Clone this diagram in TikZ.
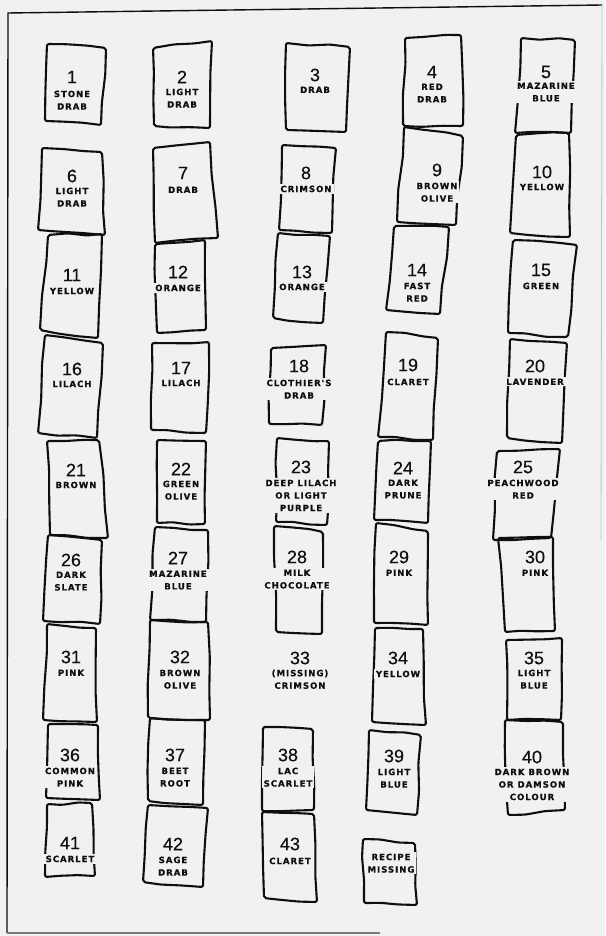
\documentclass[tikz,border=0pt]{standalone}
\usepackage{fontspec}
\usetikzlibrary{calc}
\newfontfamily\numfamily[FakeBold=0.3]{Liberation Sans}
\newfontfamily\labfamily[LetterSpace=11, BoldFeatures={FakeBold=0.5}]{DejaVu Sans}
\definecolor{bg}{RGB}{241,241,241}
\definecolor{ink}{RGB}{15,15,15}
\tikzset{
  swatch/.style={draw=ink, line width=2.1pt, line join=round, rounded corners=2pt},
  num/.style={font=\numfamily\fontsize{18}{18}\selectfont, text=ink, fill=bg, inner sep=1pt},
  lab/.style={font=\labfamily\bfseries\fontsize{8.6}{12.5}\selectfont, text=ink, align=center,
    fill=bg, inner xsep=2pt, inner ysep=1.5pt, anchor=north},
  frame/.style={draw=ink, line width=1.4pt}
}
\newcommand\wob[2]{-- ($(#1)!0.35!(#2)+(rand*1.3,rand*1.3)$) -- ($(#1)!0.7!(#2)+(rand*1.3,rand*1.3)$) -- (#2)}
\newcommand\sw[4]{\draw[swatch] (#1) \wob{#1}{#2} \wob{#2}{#3} \wob{#3}{#4}
  -- ($(#4)!0.35!(#1)+(rand*1.3,rand*1.3)$) -- ($(#4)!0.7!(#1)+(rand*1.3,rand*1.3)$) -- cycle;}
\newcommand\sam[5]{%
  \node[num] (n#1) at (#2,#3) {#1};
  \node[lab] (l#1) at (#2,#4-5) {#5};}
\begin{document}
\begin{tikzpicture}[x=1pt,y=-1pt]
\pgfmathsetseed{5}
\fill[bg] (0,0) rectangle (605,936);
\useasboundingbox (0,0) rectangle (605,936);
% frame
\coordinate (fTL) at (8,13);
\coordinate (fTR) at (602,5);
\coordinate (fBL) at (7,933);
\coordinate (fBR) at (380,933);
\coordinate (fRB) at (601,540);
\draw[frame] (fTR) -- (fTL) -- (fBL);
\draw[frame, draw=ink!55] (fBL) -- (fBR);
\draw[frame, draw=ink!25, line width=0.8pt] (fTR) -- (fRB);
% column 1
\sw{47,44}{106,48}{101,125}{45,121}
\sw{42,148}{102,152}{105,235}{38,230}
\sw{48,235}{102,234}{98,338}{40,330}
\sw{45,335}{103,343}{97,438}{38,433}
\sw{47,441}{99,440}{108,538}{50,535}
\sw{48,535}{102,540}{100,624}{43,621}
\sw{47,624}{96,628}{97,722}{43,720}
\sw{48,724}{98,725}{100,800}{46,798}
\sw{47,804}{92,803}{95,876}{45,877}
% column 2
\sw{153,48}{212,41}{210,128}{154,126}
\sw{153,148}{210,142}{218,238}{155,243}
\sw{155,244}{205,240}{206,330}{157,333}
\sw{152,343}{209,342}{206,433}{151,430}
\sw{157,440}{206,441}{205,524}{157,523}
\sw{155,527}{208,530}{206,622}{150,620}
\sw{150,620}{208,622}{210,720}{148,718}
\sw{150,718}{205,720}{203,805}{148,801}
\sw{148,805}{208,808}{203,887}{143,882}
% column 3
\sw{286,43}{350,47}{346,132}{286,130}
\sw{282,145}{336,148}{332,233}{279,230}
\sw{278,233}{330,236}{323,323}{273,318}
\sw{271,348}{326,345}{322,425}{269,424}
\sw{277,438}{329,441}{327,525}{276,522}
\sw{274,526}{323,532}{322,634}{276,632}
\sw{263,727}{313,729}{314,810}{262,811}
\sw{262,812}{314,814}{317,902}{264,898}
% column 4
\sw{405,38}{461,35}{463,126}{403,126}
\sw{404,127}{463,136}{456,225}{397,222}
\sw{394,226}{449,227}{440,314}{386,310}
\sw{386,332}{438,338}{433,440}{378,437}
\sw{378,441}{431,441}{428,523}{374,520}
\sw{376,523}{428,531}{428,625}{374,623}
\sw{375,628}{423,629}{426,725}{372,722}
\sw{369,730}{421,735}{417,815}{366,810}
\sw{363,839}{415,843}{417,905}{364,903}
% column 5
\sw{521,38}{575,40}{571,133}{515,133}
\sw{516,135}{569,133}{570,237}{510,233}
\sw{513,240}{577,245}{568,337}{508,333}
\sw{510,339}{567,343}{562,443}{507,438}
\sw{497,451}{560,449}{551,538}{493,540}
\sw{498,538}{553,537}{555,631}{505,632}
\sw{506,640}{562,638}{561,720}{507,720}
\sw{505,720}{563,722}{565,810}{508,815}
% labels
\sam{1}{72}{77}{94}{STONE\\DRAB}
\sam{2}{182}{77}{92}{LIGHT\\DRAB}
\sam{3}{315}{75}{90}{DRAB}
\sam{4}{432}{72}{87}{RED\\DRAB}
\sam{5}{546}{72}{86}{MAZARINE\\BLUE}
\sam{6}{72}{176}{191}{LIGHT\\DRAB}
\sam{7}{183}{173}{190}{DRAB}
\sam{8}{306}{173}{189}{CRIMSON}
\sam{9}{437}{170}{186}{BROWN\\OLIVE}
\sam{10}{542}{172}{187}{YELLOW}
\sam{11}{72}{275}{291}{YELLOW}
\sam{12}{178}{272}{288}{ORANGE}
\sam{13}{302}{272}{287}{ORANGE}
\sam{14}{417}{270}{286}{FAST\\RED}
\sam{15}{541}{270}{286}{GREEN}
\sam{16}{72}{369}{384}{LILACH}
\sam{17}{181}{368}{383}{LILACH}
\sam{18}{299}{366}{383}{CLOTHIER'S\\DRAB}
\sam{19}{408}{365}{382}{CLARET}
\sam{20}{535}{366}{382}{LAVENDER}
\sam{21}{76}{470}{485}{BROWN}
\sam{22}{181}{469}{484}{GREEN\\OLIVE}
\sam{23}{301}{467}{483}{DEEP LILACH\\OR LIGHT\\PURPLE}
\sam{24}{403}{468}{483}{DARK\\PRUNE}
\sam{25}{523}{467}{483}{PEACHWOOD\\RED}
\sam{26}{71}{560}{575}{DARK\\SLATE}
\sam{27}{178}{558}{574}{MAZARINE\\BLUE}
\sam{28}{297}{557}{573}{MILK\\CHOCOLATE}
\sam{29}{399}{557}{573}{PINK}
\sam{30}{535}{557}{573}{PINK}
\sam{31}{71}{657}{673}{PINK}
\sam{32}{180}{657}{673}{BROWN\\OLIVE}
\sam{33}{300}{658}{673}{(MISSING)\\CRIMSON}
\sam{34}{398}{658}{674}{YELLOW}
\sam{35}{534}{658}{673}{LIGHT\\BLUE}
\sam{36}{70}{755}{771}{COMMON\\PINK}
\sam{37}{175}{755}{771}{BEET\\ROOT}
\sam{38}{288}{755}{771}{LAC\\SCARLET}
\sam{39}{394}{756}{772}{LIGHT\\BLUE}
\sam{40}{532}{757}{772}{DARK BROWN\\OR DAMSON\\COLOUR}
\sam{41}{70}{843}{859}{SCARLET}
\sam{42}{173}{844}{860}{SAGE\\DRAB}
\sam{43}{290}{844}{861}{CLARET}
\node[lab] (lrm) at (391,852) {RECIPE\\MISSING};
\end{tikzpicture}
\end{document}
